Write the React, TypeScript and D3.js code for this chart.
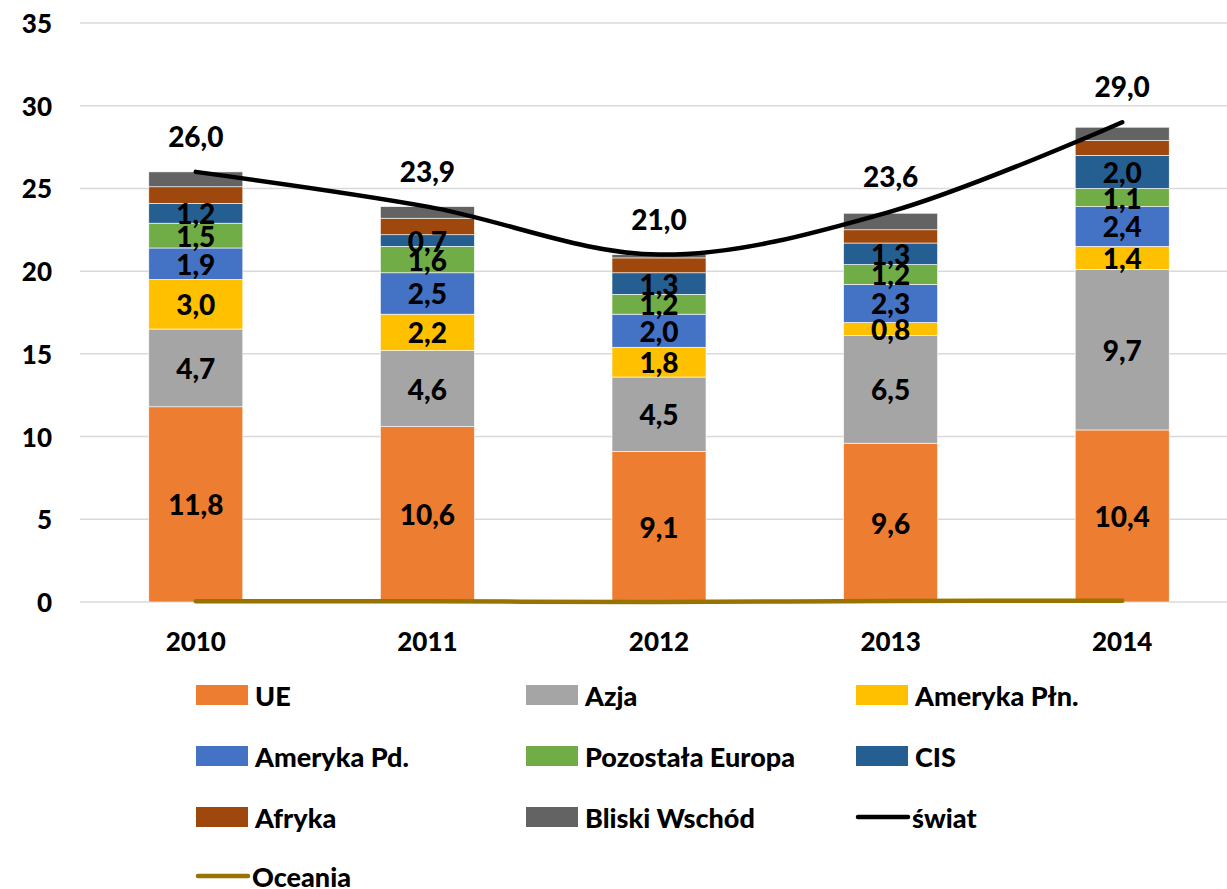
import { useEffect, useRef } from "react";
import * as d3 from "d3";

const YEARS = ["2010", "2011", "2012", "2013", "2014"];

const UE = [11.8, 10.6, 9.1, 9.6, 10.4];
const AZJA = [4.7, 4.6, 4.5, 6.5, 9.7];
const AMERYKA_PLN = [3.0, 2.2, 1.8, 0.8, 1.4];
const AMERYKA_PD = [1.9, 2.5, 2.0, 2.3, 2.4];
const POZOSTALA_EUROPA = [1.5, 1.6, 1.2, 1.2, 1.1];
const CIS = [1.2, 0.7, 1.3, 1.3, 2.0];
const AFRYKA = [1.0, 1.0, 0.9, 0.8, 0.9];
const BLISKI_WSCHOD = [0.9, 0.7, 0.2, 1.0, 0.8];
const SWIAT = [26.0, 23.9, 21.0, 23.6, 29.0];
const OCEANIA = [0.05, 0.04, 0.0, 0.06, 0.08];

const Y_TICKS = [0, 5, 10, 15, 20, 25, 30, 35];

const SERIES = [
  { name: "UE", values: UE, color: "#ED7D31", label: true },
  { name: "Azja", values: AZJA, color: "#A5A5A5", label: true },
  { name: "Ameryka Płn.", values: AMERYKA_PLN, color: "#FFC000", label: true },
  { name: "Ameryka Pd.", values: AMERYKA_PD, color: "#4472C4", label: true },
  { name: "Pozostała Europa", values: POZOSTALA_EUROPA, color: "#70AD47", label: true },
  { name: "CIS", values: CIS, color: "#255E91", label: true },
  { name: "Afryka", values: AFRYKA, color: "#9E480E", label: false },
  { name: "Bliski Wschód", values: BLISKI_WSCHOD, color: "#636363", label: false },
];

const FONT = "Lato, 'Open Sans', sans-serif";
const fmt = (v: number) => v.toFixed(1).replace(".", ",");

export default function App() {
  const ref = useRef<SVGSVGElement>(null);

  useEffect(() => {
    const el = ref.current;
    if (!el) return;
    const svg = d3.select(el);
    svg.selectAll("*").remove();

    const W = 1227;
    const H = 889;
    const left = 80;
    const top = 23;
    const bottom = 602;

    const x = d3.scaleBand().domain(YEARS).range([left, 1238]).paddingInner(0.595).paddingOuter(0.2975);
    const y = d3.scaleLinear().domain([0, 35]).range([bottom, top]);

    svg.attr("width", W).attr("height", H).attr("viewBox", `0 0 ${W} ${H}`);

    // gridlines
    svg
      .append("g")
      .selectAll("line")
      .data(Y_TICKS)
      .join("line")
      .attr("x1", left)
      .attr("x2", W)
      .attr("y1", (d) => y(d))
      .attr("y2", (d) => y(d))
      .attr("stroke", "#D9D9D9")
      .attr("stroke-width", 1.5);

    // y labels
    svg
      .append("g")
      .selectAll("text")
      .data(Y_TICKS)
      .join("text")
      .attr("x", 52)
      .attr("y", (d) => y(d))
      .attr("text-anchor", "end")
      .attr("dominant-baseline", "central")
      .attr("font-family", FONT)
      .attr("font-weight", 900)
      .attr("font-size", 26)
      .attr("fill", "#000")
      .text((d) => String(d));

    // stacked bars
    const rows = YEARS.map((yr, i) => {
      const r: Record<string, number | string> = { year: yr };
      SERIES.forEach((s) => (r[s.name] = s.values[i]));
      return r;
    });
    const stack = d3.stack<Record<string, number | string>>().keys(SERIES.map((s) => s.name));
    const stacked = stack(rows as any);

    const barW = 94;
    const cx = (yr: string) => (x(yr) as number) + x.bandwidth() / 2;

    stacked.forEach((layer, li) => {
      const s = SERIES[li];
      const g = svg.append("g");
      g.selectAll("rect")
        .data(layer)
        .join("rect")
        .attr("x", (d) => cx(d.data.year as string) - barW / 2)
        .attr("width", barW)
        .attr("y", (d) => y(d[1]))
        .attr("height", (d) => y(d[0]) - y(d[1]))
        .attr("fill", s.color)
        .attr("stroke", "#fff")
        .attr("stroke-width", 0.6);
    });

    // segment labels
    stacked.forEach((layer, li) => {
      const s = SERIES[li];
      if (!s.label) return;
      svg
        .append("g")
        .selectAll("text")
        .data(layer)
        .join("text")
        .attr("x", (d) => cx(d.data.year as string))
        .attr("y", (d) => y((d[0] + d[1]) / 2))
        .attr("text-anchor", "middle")
        .attr("dominant-baseline", "central")
        .attr("font-family", FONT)
        .attr("font-weight", 900)
        .attr("font-size", 28)
        .attr("fill", "#000")
        .text((d) => fmt(d[1] - d[0]));
    });

    // Oceania line
    const line = d3
      .line<number>()
      .x((_, i) => cx(YEARS[i]))
      .y((d) => y(d))
      .curve(d3.curveCatmullRom.alpha(0.5));

    svg
      .append("path")
      .attr("d", line(OCEANIA) as string)
      .attr("fill", "none")
      .attr("stroke", "#997300")
      .attr("stroke-width", 4.5)
      .attr("stroke-linecap", "round");

    // world line
    svg
      .append("path")
      .attr("d", line(SWIAT) as string)
      .attr("fill", "none")
      .attr("stroke", "#000")
      .attr("stroke-width", 4.5)
      .attr("stroke-linecap", "round");

    svg
      .append("g")
      .selectAll("text")
      .data(SWIAT)
      .join("text")
      .attr("x", (_, i) => cx(YEARS[i]))
      .attr("y", (d) => y(d) - 36)
      .attr("text-anchor", "middle")
      .attr("dominant-baseline", "central")
      .attr("font-family", FONT)
      .attr("font-weight", 900)
      .attr("font-size", 28)
      .attr("fill", "#000")
      .text((d) => fmt(d));

    // x labels
    svg
      .append("g")
      .selectAll("text")
      .data(YEARS)
      .join("text")
      .attr("x", (d) => cx(d))
      .attr("y", 641)
      .attr("text-anchor", "middle")
      .attr("dominant-baseline", "central")
      .attr("font-family", FONT)
      .attr("font-weight", 900)
      .attr("font-size", 26)
      .attr("fill", "#000")
      .text((d) => d);

    // legend
    const legendItems = [
      ...SERIES.map((s) => ({ name: s.name, color: s.color, type: "rect" })),
      { name: "świat", color: "#000", type: "line" },
      { name: "Oceania", color: "#997300", type: "line" },
    ];
    const colX = [196, 526, 856];
    const rowY = [695, 756, 817, 876];
    const lg = svg.append("g");
    legendItems.forEach((it, i) => {
      const lx = colX[i % 3];
      const ly = rowY[Math.floor(i / 3)];
      if (it.type === "rect") {
        lg.append("rect")
          .attr("x", lx)
          .attr("y", ly - 10)
          .attr("width", 52)
          .attr("height", 20)
          .attr("fill", it.color);
      } else {
        lg.append("line")
          .attr("x1", lx + 2)
          .attr("x2", lx + 52)
          .attr("y1", ly)
          .attr("y2", ly)
          .attr("stroke", it.color)
          .attr("stroke-width", 4.5)
          .attr("stroke-linecap", "round");
      }
      lg.append("text")
        .attr("x", lx + (it.type === "rect" ? 59 : 56))
        .attr("y", ly)
        .attr("dominant-baseline", "central")
        .attr("font-family", FONT)
        .attr("font-weight", 900)
        .attr("font-size", 27)
        .attr("fill", "#000")
        .text(it.name);
    });
  }, []);

  return (
    <div style={{ position: "absolute", left: 0, top: 0, width: 1227, height: 889, background: "#fff" }}>
      <svg ref={ref} style={{ display: "block" }} />
    </div>
  );
}
